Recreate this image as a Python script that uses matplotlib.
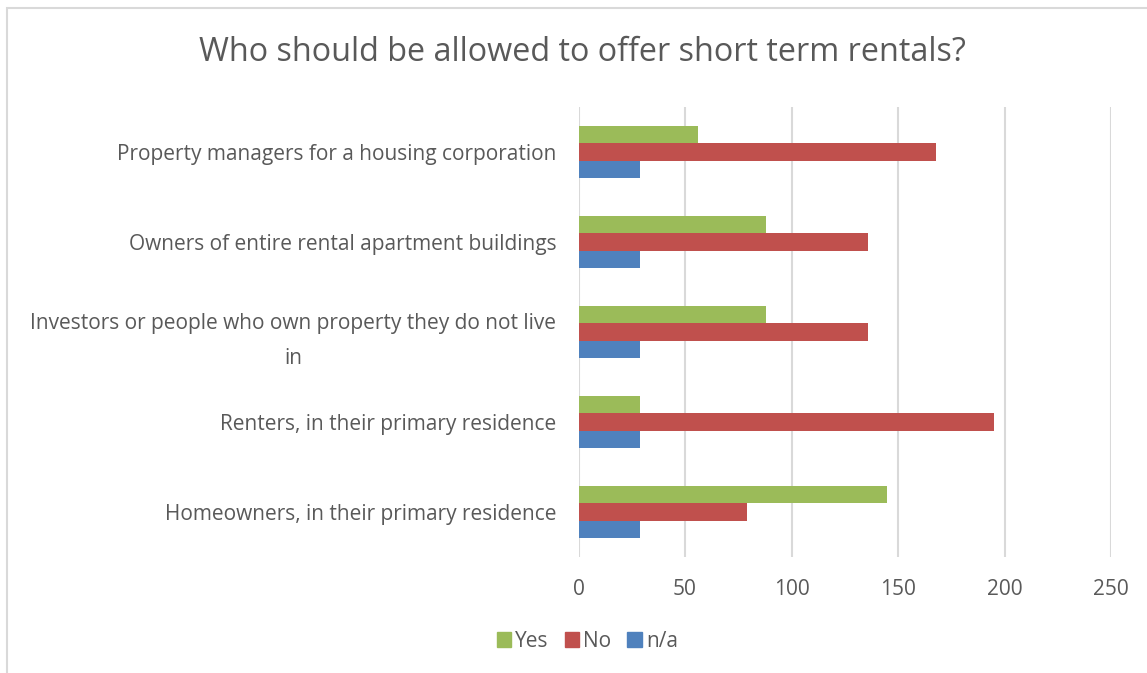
import matplotlib.pyplot as plt
import numpy as np
from matplotlib.patches import Patch

categories = ["Homeowners, in their primary residence",
              "Renters, in their primary residence",
              "Investors or people who own property they do not live\nin",
              "Owners of entire rental apartment buildings",
              "Property managers for a housing corporation"]
yes = [145, 29, 88, 88, 56]
no = [79, 195, 136, 136, 168]
na = [29, 29, 29, 29, 29]
series = ["Yes", "No", "n/a"]
colors = ["#9BBB59", "#C0504D", "#4F81BD"]

plt.rcParams['font.family'] = ['Open Sans', 'DejaVu Sans']
text_color = "#595959"

fig = plt.figure(figsize=(11.47, 6.73), dpi=100)
ax = fig.add_axes([578.5 / 1147, 116 / 673, 532.5 / 1147, 450 / 673])

y = np.arange(len(categories))
h = 0.19
for i, (vals, name, c) in enumerate(zip([yes, no, na], series, colors)):
    ax.barh(y + (1 - i) * h, vals, height=h, color=c, label=name, zorder=3)

ax.set_xlim(0, 250)
ax.set_ylim(-0.5, len(categories) - 0.5)
ax.set_xticks(np.arange(0, 251, 50))
ax.set_yticks(y)
ax.set_yticklabels(categories)
for t in ax.get_yticklabels():
    t.set_multialignment('center')
    t.set_linespacing(1.85)
ax.tick_params(axis='both', length=0, colors=text_color, labelsize=15)
ax.tick_params(axis='x', pad=16)
ax.tick_params(axis='y', pad=16)
ax.grid(axis='x', color="#D9D9D9", linewidth=1.5, zorder=0)
for s in ax.spines.values():
    s.set_visible(False)

fig.text(0.508, 0.922, "Who should be allowed to offer short term rentals?",
         ha='center', va='center', fontsize=23.3, color=text_color)

handles = [Patch(color=c, label=n) for c, n in zip(colors, series)]
fig.legend(handles=handles, loc='center', bbox_to_anchor=(0.512, 0.047), ncol=3,
           frameon=False, fontsize=15, handlelength=0.7, handleheight=0.7,
           handletextpad=0.2, columnspacing=0.75, labelcolor=text_color)

border = plt.Rectangle((7.5 / 1147, -0.1), 1.2, (673 - 8.5) / 673 + 0.1,
                       transform=fig.transFigure, fill=False,
                       edgecolor="#D9D9D9", linewidth=1.5)
fig.patches.append(border)

fig.savefig("out.png", dpi=100)
